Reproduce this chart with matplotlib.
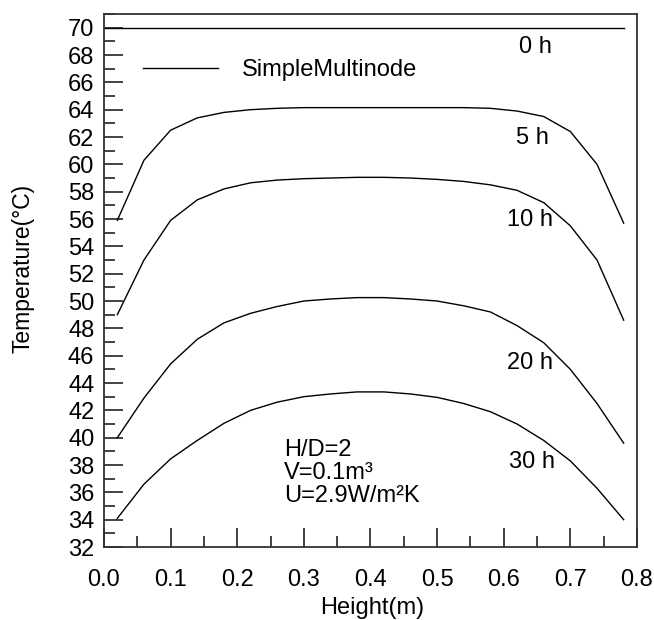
import matplotlib
matplotlib.use("Agg")
import matplotlib.pyplot as plt
from matplotlib.ticker import MultipleLocator

plt.rcParams['font.family'] = ['Liberation Sans', 'DejaVu Sans']

# node heights (m)
heights = [0.02, 0.06, 0.10, 0.14, 0.18, 0.22, 0.26, 0.30, 0.34, 0.38,
           0.42, 0.46, 0.50, 0.54, 0.58, 0.62, 0.66, 0.70, 0.74, 0.78]

# 0 h profile (uniform)
h0_heights = [0.0, 0.78]
t_0h = [70, 70]

t_5h = [55.9, 60.3, 62.5, 63.4, 63.8, 64.0, 64.1, 64.15, 64.15, 64.15,
        64.15, 64.15, 64.15, 64.15, 64.1, 63.9, 63.5, 62.4, 60.0, 55.7]
t_10h = [49.0, 53.0, 55.9, 57.4, 58.2, 58.65, 58.85, 58.95, 59.0, 59.05,
         59.05, 59.0, 58.9, 58.75, 58.5, 58.1, 57.2, 55.5, 53.0, 48.6]
t_20h = [40.0, 42.9, 45.4, 47.2, 48.4, 49.1, 49.6, 50.0, 50.15, 50.25,
         50.25, 50.15, 50.0, 49.65, 49.2, 48.2, 46.95, 45.0, 42.5, 39.6]
t_30h = [34.1, 36.6, 38.45, 39.8, 41.05, 42.0, 42.6, 43.0, 43.2, 43.35,
         43.35, 43.2, 42.95, 42.5, 41.9, 41.0, 39.8, 38.3, 36.3, 34.0]

curve_labels = ['0 h', '5 h', '10 h', '20 h', '30 h']
label_x = [0.648, 0.643, 0.64, 0.639, 0.643]
label_y = [68.6, 61.9, 55.9, 45.5, 38.2]

note_lines = ['H/D=2', 'V=0.1m³', 'U=2.9W/m²K']
note_y = [39.1, 37.4, 35.7]

fig = plt.figure(figsize=(6.54, 6.2), dpi=100)
ax = fig.add_axes([0.159, 0.1177, 0.815, 0.8597])

ax.plot(h0_heights, t_0h, color='black', lw=1.0, label='SimpleMultinode')
for t in [t_5h, t_10h, t_20h, t_30h]:
    ax.plot(heights, t, color='black', lw=1.0)

for lab, lx, ly in zip(curve_labels, label_x, label_y):
    ax.text(lx, ly, lab, fontsize=17, ha='center', va='center')

for line, ny in zip(note_lines, note_y):
    ax.text(0.27, ny, line, fontsize=17, ha='left', va='center')

ax.set_xlim(0, 0.8)
ax.set_ylim(32, 71)
ax.xaxis.set_major_locator(MultipleLocator(0.1))
ax.xaxis.set_minor_locator(MultipleLocator(0.05))
ax.yaxis.set_major_locator(MultipleLocator(2))
ax.yaxis.set_minor_locator(MultipleLocator(1))
ax.xaxis.set_major_formatter(plt.FormatStrFormatter('%.1f'))
ax.tick_params(which='both', direction='in', top=False, right=False,
               labelsize=17, width=1.2, color='#222222')
ax.tick_params(axis='y', which='both', pad=7)
ax.tick_params(axis='x', which='both', pad=16)
ax.tick_params(which='major', length=14)
ax.tick_params(which='minor', length=8)
for s in ax.spines.values():
    s.set_linewidth(1.3)
    s.set_color('#333333')

ax.set_xlabel('Height(m)', fontsize=17)
ax.set_ylabel('Temperature(°C)', fontsize=16.5)
ax.xaxis.set_label_coords(0.504, -0.094)
ax.yaxis.set_label_coords(-0.13, 0.523)

ax.legend(loc='center left', bbox_to_anchor=(0.073, 0.895), frameon=False,
          fontsize=17, handlelength=3.2, handletextpad=1.0,
          borderpad=0, borderaxespad=0)

fig.savefig('out.png', dpi=100)
